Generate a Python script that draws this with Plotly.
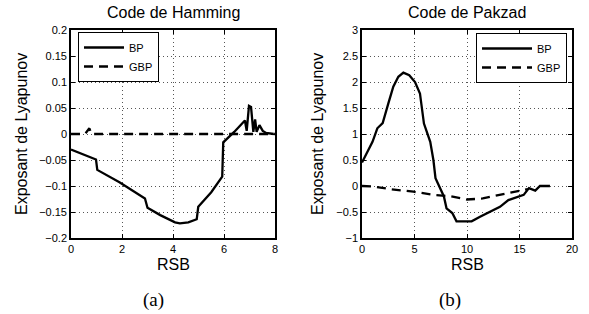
import plotly.graph_objects as go

W, H = 589, 314

# ---- data ----
ham_bp_x = [0, 0.98, 1.03, 1.9, 2.9, 3.0, 3.5, 3.88, 4.08, 4.27, 4.6, 4.93, 4.99, 5.5, 5.93, 5.97,
            6.4, 6.82, 6.89, 6.98, 7.06, 7.15, 7.22, 7.28, 7.39, 7.52, 7.65, 7.95]
ham_bp_y = [-0.030, -0.049, -0.069, -0.093, -0.124, -0.142, -0.156, -0.165, -0.170, -0.172, -0.170,
            -0.164, -0.140, -0.112, -0.082, -0.016, 0.004, 0.026, 0.006, 0.054, 0.052, 0.004, 0.028,
            0.004, 0.017, 0.006, 0.002, 0.0]
ham_gbp_x = [0, 0.55, 0.72, 0.8, 8]
ham_gbp_y = [0, 0, 0.011, 0, 0]

pak_bp_x = [0, 1.0, 1.46, 1.97, 2.51, 2.98, 3.46, 3.94, 4.5, 5.05, 5.52, 5.9, 6.5, 6.8, 7.0, 7.4,
            7.8, 8.05, 8.6, 9.0, 10.44, 11.24, 12.19, 13.14, 13.94, 15.4, 15.9, 16.5, 16.95, 17.9]
pak_bp_y = [0.45, 0.85, 1.11, 1.21, 1.59, 1.91, 2.10, 2.18, 2.13, 2.0, 1.78, 1.2, 0.85, 0.5, 0.15,
            -0.02, -0.2, -0.43, -0.52, -0.68, -0.68, -0.59, -0.49, -0.40, -0.27, -0.17, -0.04,
            -0.09, 0.0, 0.0]
pak_gbp_x = [0, 1.1, 2.7, 4.9, 6.8, 8.5, 10.0, 11.5, 13.1, 14.9, 15.8]
pak_gbp_y = [0.0, -0.01, -0.06, -0.11, -0.17, -0.2, -0.26, -0.24, -0.17, -0.10, -0.06]

ham_xticks = [0, 2, 4, 6, 8]
ham_yticks = [-0.2, -0.15, -0.1, -0.05, 0, 0.05, 0.1, 0.15, 0.2]
ham_yticklabels = ["\u22120.2", "\u22120.15", "\u22120.1", "\u22120.05", "0", "0.05", "0.1", "0.15", "0.2"]
pak_xticks = [0, 5, 10, 15, 20]
pak_yticks = [-1, -0.5, 0, 0.5, 1, 1.5, 2, 2.5, 3]
pak_yticklabels = ["\u22121", "\u22120.5", "0", "0.5", "1", "1.5", "2", "2.5", "3"]

titles = ["Code de Hamming", "Code de Pakzad"]
xlabel = "RSB"
ylabel = "Exposant de Lyapunov"
captions = ["(a)", "(b)"]
series_names = ["BP", "GBP"]

# ---- layout helpers (pixel -> paper) ----
def px(x):
    return x / W

def py(y):
    return 1 - y / H

FONT = "Liberation Sans, Arial, sans-serif"
LW = 2.3
DASH = "9px,6px"

fig = go.Figure()
fig.add_trace(go.Scatter(x=ham_bp_x, y=ham_bp_y, mode="lines", name=series_names[0],
                         line=dict(color="black", width=LW), xaxis="x", yaxis="y", legend="legend"))
fig.add_trace(go.Scatter(x=ham_gbp_x, y=ham_gbp_y, mode="lines", name=series_names[1],
                         line=dict(color="black", width=LW, dash=DASH), xaxis="x", yaxis="y", legend="legend"))
fig.add_trace(go.Scatter(x=pak_bp_x, y=pak_bp_y, mode="lines", name=series_names[0],
                         line=dict(color="black", width=LW), xaxis="x2", yaxis="y2", legend="legend2"))
fig.add_trace(go.Scatter(x=pak_gbp_x, y=pak_gbp_y, mode="lines", name=series_names[1],
                         line=dict(color="black", width=LW, dash=DASH), xaxis="x2", yaxis="y2", legend="legend2"))

axis_common = dict(
    showline=True, linecolor="black", linewidth=1.6, mirror="ticks",
    ticks="inside", ticklen=4, tickwidth=1, tickcolor="black",
    showgrid=True, gridcolor="#555", gridwidth=1, griddash="1px,3px",
    zeroline=False, tickfont=dict(family=FONT, size=11, color="black"),
)

x1dom = [px(71), px(275)]
x2dom = [px(362), px(572)]
ydom = [py(238), py(30)]

fig.update_layout(
    width=W, height=H,
    margin=dict(l=0, r=0, t=0, b=0, autoexpand=False),
    paper_bgcolor="white", plot_bgcolor="white",
    font=dict(family=FONT, color="black"),
    xaxis=dict(domain=x1dom, range=[0, 8], tickvals=ham_xticks, anchor="y", ticklabelstandoff=0, **axis_common),
    yaxis=dict(domain=ydom, range=[-0.2, 0.2], tickvals=ham_yticks, ticktext=ham_yticklabels, anchor="x", **axis_common),
    xaxis2=dict(domain=x2dom, range=[0, 20], tickvals=pak_xticks, anchor="y2", ticklabelstandoff=0, **axis_common),
    yaxis2=dict(domain=ydom, range=[-1, 3], tickvals=pak_yticks, ticktext=pak_yticklabels, anchor="x2", **axis_common),
    legend=dict(x=px(78), y=py(32), xanchor="left", yanchor="top", bgcolor="white",
                bordercolor="black", borderwidth=1, font=dict(family=FONT, size=11, color="black"),
                tracegroupgap=0, itemwidth=40),
    legend2=dict(x=px(567), y=py(33), xanchor="right", yanchor="top", bgcolor="white",
                 bordercolor="black", borderwidth=1, font=dict(family=FONT, size=11, color="black"),
                 tracegroupgap=0, itemwidth=50),
    showlegend=True,
)

ann = []
for cx, t in zip([173, 467], titles):
    ann.append(dict(x=px(cx), y=py(13), text=t, showarrow=False, xanchor="center", yanchor="middle",
                    font=dict(family=FONT, size=16, color="black")))
for cx in [173, 467]:
    ann.append(dict(x=px(cx), y=py(264), text=xlabel, showarrow=False, xanchor="center", yanchor="middle",
                    font=dict(family=FONT, size=16, color="black")))
for cx in [21, 317]:
    ann.append(dict(x=px(cx), y=py(134), text=ylabel, showarrow=False, xanchor="center", yanchor="middle",
                    textangle=-90, font=dict(family=FONT, size=16, color="black")))
for cx, c in zip([153, 450], captions):
    ann.append(dict(x=px(cx), y=py(300), text=c, showarrow=False, xanchor="center", yanchor="middle",
                    font=dict(family="Liberation Serif, Times New Roman, serif", size=19, color="black")))
for a in ann:
    a.update(xref="paper", yref="paper")
fig.update_layout(annotations=ann)

fig.write_html("out.html", config={"displayModeBar": False},
               post_script="document.body.style.margin='0px';")
